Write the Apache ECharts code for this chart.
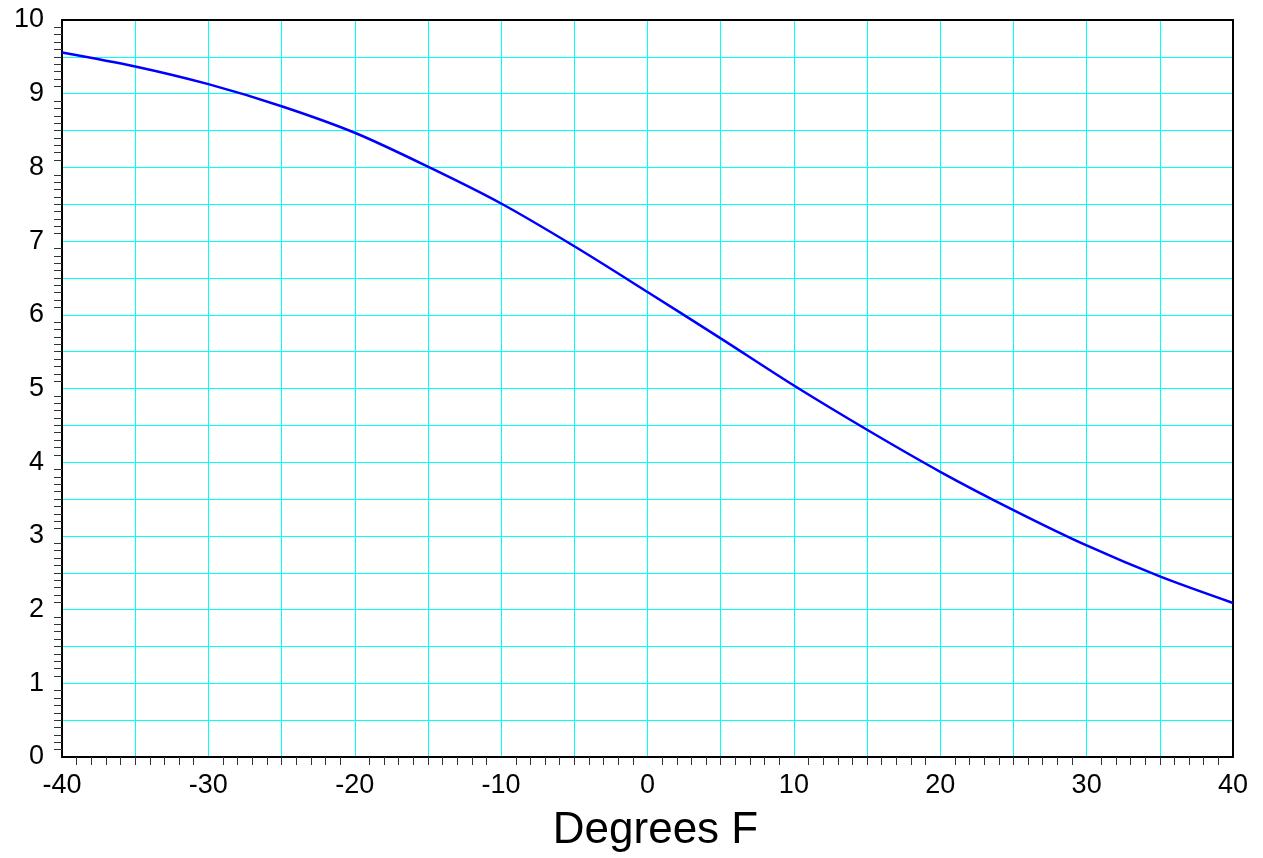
<!DOCTYPE html>
<html>
<head>
<meta charset="utf-8">
<script src="https://cdn.jsdelivr.net/npm/echarts@6/dist/echarts.min.js"></script>
<style>
html,body{margin:0;padding:0;background:#fff;}
#chart{width:1263px;height:858px;}
</style>
</head>
<body>
<div id="chart"></div>
<script>
const temperaturesF = [-40, -35, -30, -25, -20, -15, -10, -5, 0, 5, 10, 15, 20, 25, 30, 35, 40];
const values = [9.56, 9.37, 9.13, 8.83, 8.47, 8.01, 7.51, 6.93, 6.31, 5.68, 5.04, 4.44, 3.87, 3.35, 2.87, 2.45, 2.09];
const xTickLabels = ['-40','-30','-20','-10','0','10','20','30','40'];
const yTickLabels = ['0','1','2','3','4','5','6','7','8','9','10'];
const xAxisTitle = 'Degrees F';

const FONT = '"Liberation Sans", Arial, Helvetica, sans-serif';
const CYAN = '#00ffff';
const chart = echarts.init(document.getElementById('chart'), null, {renderer: 'canvas'});
chart.setOption({
  animation: false,
  backgroundColor: '#fff',
  grid: {left: 62, right: 30, top: 20, bottom: 99, containLabel: false},
  xAxis: [{
    type: 'value', min: -40, max: 40, interval: 10, position: 'bottom',
    name: xAxisTitle, nameLocation: 'middle', nameGap: 52,
    nameTextStyle: {fontFamily: FONT, fontSize: 44, color: '#000', padding: [0, 0, 0, 16]},
    axisLine: {show: true, onZero: false, lineStyle: {color: '#000', width: 2}},
    axisTick: {show: false},
    minorTick: {show: true, splitNumber: 10, length: 8, lineStyle: {color: '#333', width: 1}},
    axisLabel: {fontFamily: FONT, fontSize: 27, color: '#000', margin: 15,
      formatter: v => xTickLabels[Math.round((v + 40) / 10)]},
    splitLine: {show: false}
  }, {
    type: 'value', min: -40, max: 40, interval: 5, position: 'top',
    axisLine: {show: true, onZero: false, lineStyle: {color: '#000', width: 2}},
    axisTick: {show: false}, axisLabel: {show: false},
    splitLine: {show: true, lineStyle: {color: CYAN, width: 1}}
  }],
  yAxis: [{
    type: 'value', min: 0, max: 10, interval: 1, position: 'left',
    axisLine: {show: true, onZero: false, lineStyle: {color: '#000', width: 2}},
    axisTick: {show: false},
    minorTick: {show: true, splitNumber: 10, length: 8, lineStyle: {color: '#333', width: 1}},
    axisLabel: {fontFamily: FONT, fontSize: 27, color: '#000', margin: 18,
      formatter: v => yTickLabels[Math.round(v)]},
    splitLine: {show: false}
  }, {
    type: 'value', min: 0, max: 10, interval: 0.5, position: 'right',
    axisLine: {show: true, onZero: false, lineStyle: {color: '#000', width: 2}},
    axisTick: {show: false}, axisLabel: {show: false},
    splitLine: {show: true, lineStyle: {color: CYAN, width: 1}}
  }],
  series: [{
    type: 'line', xAxisIndex: 0, yAxisIndex: 0,
    data: temperaturesF.map((t, i) => [t, values[i]]),
    smooth: 0.3, showSymbol: false, symbol: 'none',
    lineStyle: {color: '#0000ff', width: 2.5}, z: 5
  }]
});
</script>
</body>
</html>
